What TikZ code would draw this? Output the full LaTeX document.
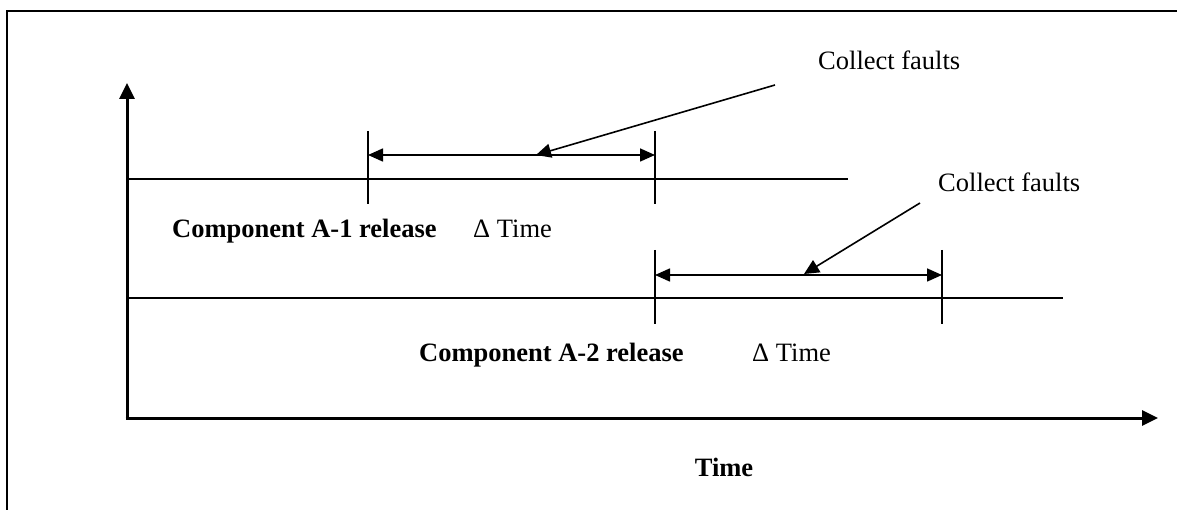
\documentclass[tikz,border=0pt]{standalone}
\usepackage{fontspec}
\setmainfont{Liberation Serif}
\usetikzlibrary{arrows.meta}
\begin{document}
\begin{tikzpicture}[x=1pt,y=-1pt,
  thin line/.style={line width=1.6pt},
  axis/.style={line width=3pt,-{Triangle[length=16pt,width=15pt]}},
  dim/.style={line width=1.6pt,{Triangle[length=15pt,width=13pt]}-{Triangle[length=15pt,width=13pt]}},
  pointer/.style={line width=1.6pt,-{Triangle[length=15pt,width=14pt]}},
  lbl/.style={font=\fontsize{26.5}{30}\selectfont,inner sep=0pt},
  blbl/.style={font=\fontsize{26.5}{30}\selectfont\bfseries,inner sep=0pt}]
\useasboundingbox (0,0) rectangle (1177,510);
% frame
\draw[line width=2pt] (7,510) -- (7,11) -- (1177,11);
% axes
\coordinate (O) at (127,418);
\coordinate (Ytop) at (127,83);
\coordinate (Xend) at (1158,418);
\draw[axis] ([yshift=1.5pt]O) -- (Ytop);
\draw[axis] ([xshift=-1.5pt]O) -- (Xend);
% release lines
\coordinate (L1s) at (127,179);
\coordinate (L1e) at (848,179);
\coordinate (L2s) at (127,298);
\coordinate (L2e) at (1063,298);
\draw[thin line] (L1s) -- (L1e);
\draw[thin line] (L2s) -- (L2e);
% ticks
\coordinate (T1a) at (368,131); \coordinate (T1b) at (368,204);
\coordinate (T2a) at (655,131); \coordinate (T2b) at (655,204);
\coordinate (T3a) at (655,250); \coordinate (T3b) at (655,324);
\coordinate (T4a) at (942,250); \coordinate (T4b) at (942,324);
\draw[thin line] (T1a) -- (T1b);
\draw[thin line] (T2a) -- (T2b);
\draw[thin line] (T3a) -- (T3b);
\draw[thin line] (T4a) -- (T4b);
% dimension arrows
\coordinate (D1a) at (368,155); \coordinate (D1b) at (655,155);
\coordinate (D2a) at (655,275); \coordinate (D2b) at (942,275);
\draw[dim] (D1a) -- (D1b);
\draw[dim] (D2a) -- (D2b);
% labels
\node[lbl,anchor=base west] (cf1) at (818,70) {Collect faults};
\node[lbl,anchor=base west] (cf2) at (938,192) {Collect faults};
\coordinate (P1s) at (775,85);
\coordinate (P1e) at (536,155);
\coordinate (P2s) at (920,203);
\coordinate (P2e) at (804,274);
\draw[pointer] (P1s) -- (P1e);
\draw[pointer] (P2s) -- (P2e);
\node[blbl,anchor=base west] (c1) at (172,238) {Component A-1 release};
\node[lbl,anchor=base west] (dt1) at (473,238) {Δ Time};
\node[blbl,anchor=base west] (c2) at (419,361) {Component A-2 release};
\node[lbl,anchor=base west] (dt2) at (752,361) {Δ Time};
\node[blbl,anchor=base] (time) at (724,476) {Time};
\end{tikzpicture}
\end{document}
